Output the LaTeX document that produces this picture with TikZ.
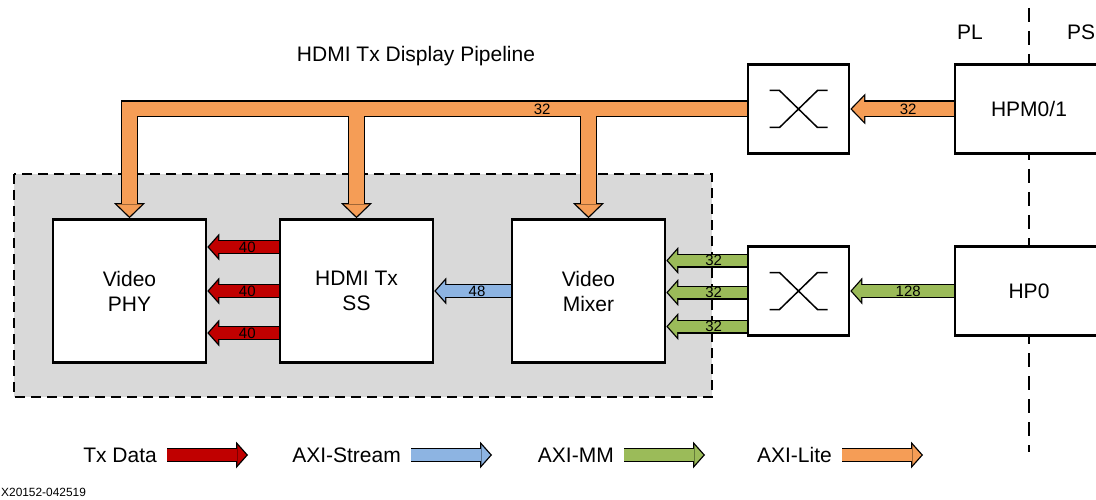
\documentclass[tikz,border=0pt]{standalone}
\usepackage{fontspec}
\setmainfont{Liberation Sans}
\usetikzlibrary{positioning,arrows.meta}

\definecolor{txred}{HTML}{C00000}
\definecolor{streamblue}{HTML}{8DB4E2}
\definecolor{mmgreen}{HTML}{9BBB59}
\definecolor{liteorange}{HTML}{F59D56}
\definecolor{pipegray}{HTML}{D9D9D9}

\tikzset{
  bigtxt/.style={font=\fontsize{21}{25}\selectfont},
  block/.style={rectangle, draw, fill=white, line width=2.6pt, minimum width=153pt, minimum height=143pt, align=center, bigtxt},
  switchbox/.style={rectangle, draw, fill=white, line width=2.6pt, minimum width=101pt, minimum height=89pt},
  port/.style={rectangle, draw, fill=white, line width=2.6pt, minimum width=148pt, minimum height=89pt, bigtxt},
  numlbl/.style={font=\fontsize{15}{15}\selectfont, inner sep=0pt},
  legtxt/.style={bigtxt, inner sep=0pt},
  xsym/.style={line width=1.5pt},
  % fat arrows: black outline pass, then colour pass
  thinbg/.style={draw=black, line width=14pt, shorten >=0pt, -{Triangle[length=12pt, width=27pt, line width=0pt]}},
  thinarrow/.style={preaction={thinbg}, draw=#1, line width=11.4pt, shorten >=1.74pt, -{Triangle[length=9pt, width=20.2pt, line width=0pt]}},
  litebg/.style={draw=black, line width=17pt, shorten >=0pt, -{Triangle[length=15pt, width=31pt, line width=0pt]}},
  litefg/.style={draw=liteorange, line width=14.4pt, shorten >=1.8pt, -{Triangle[length=11.9pt, width=24.6pt, line width=0pt]}},
  litearrow/.style={preaction={litebg}, litefg}
}

\begin{document}
\begin{tikzpicture}[x=1pt, y=-1pt]
\useasboundingbox (0,0) rectangle (1096,500);

% pipeline frame and PL/PS border
\draw[fill=pipegray, line width=2.8pt, dash pattern=on 10pt off 6pt] (14,174) rectangle (712,397);
\draw[line width=2.4pt, dash pattern=on 14pt off 9pt] (1029,8) -- (1029,452);

\node[bigtxt] (title) at (416,56) {HDMI Tx Display Pipeline};
\node[bigtxt] (pl) at (970,32) {PL};
\node[bigtxt] (ps) at (1081,32) {PS};

\node[block] (phy) at (129.5,291) {Video\\PHY};
\node[block, right of=phy, node distance=227pt] (hdmi) {HDMI Tx\\SS};
\node[block, right of=hdmi, node distance=232pt] (mix) {Video\\Mixer};
\node[switchbox, right of=mix, node distance=210pt] (sw2) {};
\node[switchbox, above of=sw2, node distance=182pt] (sw1) {};
\node[port, right of=sw2, node distance=230.5pt] (hp0) {HP0};
\node[port, above of=hp0, node distance=182pt] (hpm) {HPM0/1};

\foreach \s in {sw1,sw2}
  \draw[xsym, shift={(\s.center)}] (-29,-18.5) -- ++(10,0) -- (19,18.5) -- ++(10,0)
    (29,-18.5) -- ++(-10,0) -- (-19,18.5) -- ++(-10,0);

% AXI-Lite bus
\foreach \dst in {phy,hdmi,mix}
  \draw[litebg] (sw1.west) -| (\dst.north);
\foreach \dst in {phy,hdmi,mix}
  \draw[litefg] (sw1.west) -| (\dst.north);
\path (hdmi.north |- sw1.west) -- node[numlbl, pos=0.8] {32} (mix.north |- sw1.west);
\draw[litearrow] (hpm.west) -- node[numlbl, pos=0.44] {32} (sw1.east);

% AXI-MM
\draw[thinarrow=mmgreen] (hp0.west) -- node[numlbl, pos=0.44] {128} (sw2.east);
\foreach \dy in {30.5,-1.5,-35.5}
  \draw[thinarrow=mmgreen] ([yshift=\dy pt]sw2.west) -- node[numlbl, pos=0.41] {32} ([yshift=\dy pt]mix.east);

% AXI-Stream and Tx data
\draw[thinarrow=streamblue] (mix.west) -- node[numlbl, pos=0.44] {48} (hdmi.east);
\foreach \dy in {44,0,-42}
  \draw[thinarrow=txred] ([yshift=\dy pt]hdmi.west) -- node[numlbl, pos=0.44] {40} ([yshift=\dy pt]phy.east);

% legend
\foreach \nm/\txt/\col/\xe in {tx/Tx Data/txred/157, st/AXI-Stream/streamblue/401, mm/AXI-MM/mmgreen/614, lt/AXI-Lite/liteorange/832}{
  \node[legtxt, anchor=east] (leg\nm) at (\xe,455) {\txt};
  \coordinate[right=10pt of leg\nm.east] (legs\nm);
  \coordinate[right=81pt of legs\nm] (lege\nm);
  \draw[thinarrow=\col] (legs\nm) -- (lege\nm);
}

\node[font=\fontsize{11.9}{12}\selectfont, inner sep=0pt, anchor=west] (fig) at (1,492) {X20152-042519};
\end{tikzpicture}
\end{document}
